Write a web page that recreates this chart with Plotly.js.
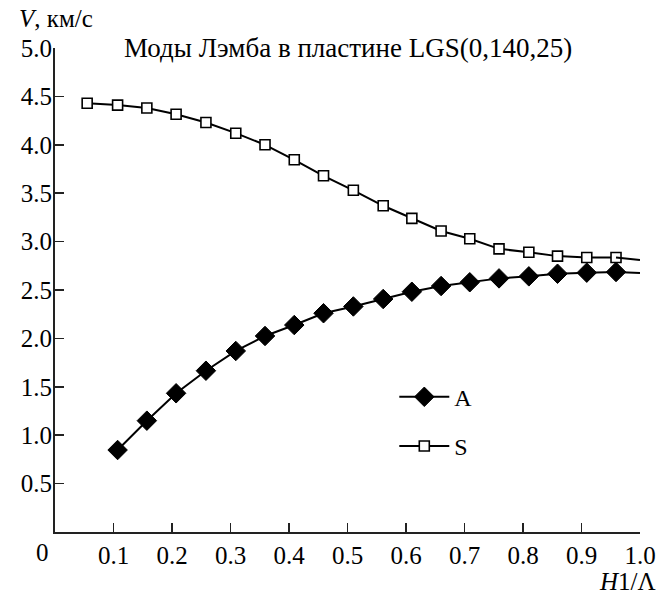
<!DOCTYPE html>
<html>
<head>
<meta charset="utf-8">
<script src="https://cdn.plot.ly/plotly-3.0.1.min.js"></script>
<style>html,body{margin:0;padding:0;background:#fff;}#chart{width:670px;height:596px;}</style>
</head>
<body>
<div id="chart"></div>
<script>
// H1/Lambda values for mode S (last point is the curve end, drawn without marker)
const xS = [0.055, 0.107, 0.157, 0.207, 0.258, 0.309, 0.359, 0.409, 0.459, 0.51, 0.561, 0.61, 0.66, 0.709, 0.759, 0.81, 0.859, 0.909, 0.959, 1.0];
const vS = [4.43, 4.41, 4.38, 4.315, 4.23, 4.12, 4.0, 3.845, 3.68, 3.53, 3.37, 3.24, 3.11, 3.03, 2.925, 2.89, 2.85, 2.835, 2.835, 2.81];
// mode A
const xA = [0.107, 0.157, 0.207, 0.258, 0.309, 0.359, 0.409, 0.459, 0.51, 0.561, 0.61, 0.66, 0.709, 0.759, 0.81, 0.859, 0.909, 0.959, 1.0];
const vA = [0.847, 1.15, 1.433, 1.666, 1.87, 2.025, 2.138, 2.26, 2.33, 2.407, 2.482, 2.541, 2.58, 2.62, 2.641, 2.668, 2.679, 2.686, 2.676];

const xTicks = [0.1, 0.2, 0.3, 0.4, 0.5, 0.6, 0.7, 0.8, 0.9, 1.0];
const xTickText = ["0.1", "0.2", "0.3", "0.4", "0.5", "0.6", "0.7", "0.8", "0.9", "1.0"];
const yTicks = [0.5, 1.0, 1.5, 2.0, 2.5, 3.0, 3.5, 4.0, 4.5, 5.0];
const yTickText = ["0.5", "1.0", "1.5", "2.0", "2.5", "3.0", "3.5", "4.0", "4.5", "5.0"];

const FONT = "Liberation Serif";

const nA = xA.length, nS = xS.length;
const traces = [
  {x: xA.slice(0, nA - 1), y: vA.slice(0, nA - 1), mode: 'lines+markers', name: 'A',
   legendgroup: 'a',
   line: {color: '#000', width: 2},
   marker: {symbol: 'diamond', size: 15, color: '#000', line: {color: '#000', width: 1}}},
  {x: xA.slice(nA - 2), y: vA.slice(nA - 2), mode: 'lines', showlegend: false,
   line: {color: '#000', width: 2}, hoverinfo: 'skip'},
  {x: xS.slice(0, nS - 1), y: vS.slice(0, nS - 1), mode: 'lines+markers', name: 'S',
   legendgroup: 's',
   line: {color: '#000', width: 2},
   marker: {symbol: 'square', size: 10, color: '#fff', line: {color: '#000', width: 1.6}}},
  {x: xS.slice(nS - 2), y: vS.slice(nS - 2), mode: 'lines', showlegend: false,
   line: {color: '#000', width: 2}, hoverinfo: 'skip'}
];

const layout = {
  width: 670, height: 596,
  margin: {l: 55, r: 30, t: 48, b: 64},
  paper_bgcolor: '#fff', plot_bgcolor: '#fff',
  font: {family: FONT, size: 24, color: '#000'},
  showlegend: true,
  legend: {x: 0.58, y: 0.325, xanchor: 'left', yanchor: 'top',
           bgcolor: 'rgba(0,0,0,0)', font: {family: FONT, size: 24},
           itemwidth: 50,
           traceorder: 'grouped', tracegroupgap: 15},
  xaxis: {range: [0, 1.0], tickvals: xTicks, ticktext: xTickText,
          showgrid: false, zeroline: false, showline: true, linecolor: '#222', linewidth: 2,
          ticks: 'inside', ticklen: 9, tickwidth: 1.5, tickcolor: '#222',
          tickfont: {family: FONT, size: 25}},
  yaxis: {range: [0, 5.0], tickvals: yTicks, ticktext: yTickText,
          showgrid: false, zeroline: false, showline: true, linecolor: '#222', linewidth: 2,
          ticks: 'inside', ticklen: 9, tickwidth: 1.5, tickcolor: '#222',
          ticklabelstandoff: -4,
          tickfont: {family: FONT, size: 25}},
  annotations: [
    {text: 'Моды Лэмба в пластине LGS(0,140,25)', xref: 'paper', yref: 'paper',
     x: 0.5, y: 1.0, xanchor: 'center', yanchor: 'middle', showarrow: false,
     font: {family: FONT, size: 27}},
    {text: '<i>V</i>, км/с', xref: 'paper', yref: 'paper', x: -0.065, y: 1.06,
     xanchor: 'left', yanchor: 'middle', showarrow: false, font: {family: FONT, size: 25}},
    {text: '0', xref: 'paper', yref: 'paper', x: -0.022, y: -0.042,
     xanchor: 'center', yanchor: 'middle', showarrow: false, font: {family: FONT, size: 25}},
    {text: '<i>H</i>1/Λ', xref: 'paper', yref: 'paper', x: 1.03, y: -0.103,
     xanchor: 'right', yanchor: 'middle', showarrow: false, font: {family: FONT, size: 25}}
  ]
};

Plotly.newPlot('chart', traces, layout, {displayModeBar: false, staticPlot: true});
</script>
</body>
</html>
